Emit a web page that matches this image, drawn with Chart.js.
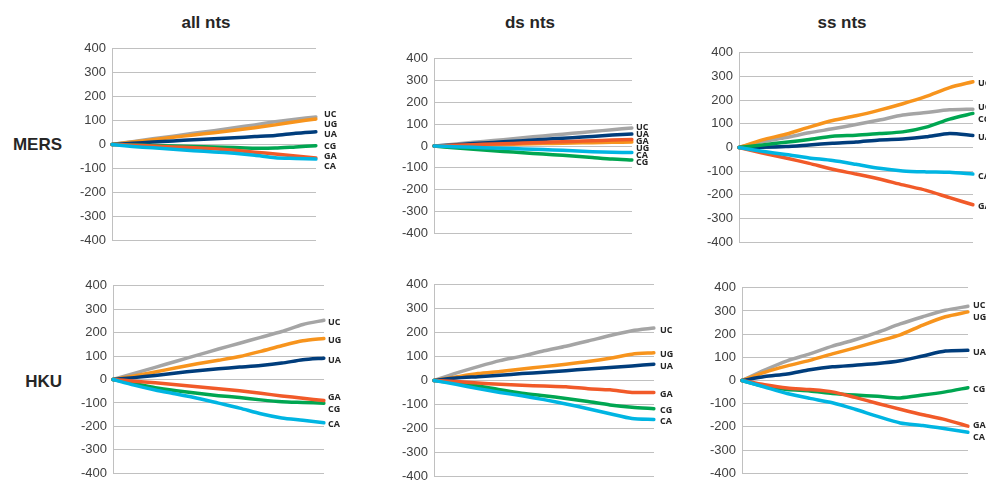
<!DOCTYPE html>
<html>
<head>
<meta charset="utf-8">
<script src="https://cdn.jsdelivr.net/npm/chart.js@4"></script>
<style>
  html, body { margin: 0; padding: 0; background: #fff; width: 986px; height: 482px; overflow: hidden; position: relative; }
  canvas { position: absolute; }
  .title { position: absolute; font: bold 17px "Liberation Sans", Arial, sans-serif; color: #262626; transform: translate(-50%, -50%); white-space: nowrap; }
  .row { position: absolute; font: bold 17px "Liberation Sans", Arial, sans-serif; color: #262626; transform: translate(-100%, -50%); white-space: nowrap; }
</style>
</head>
<body>
<div class="title" style="left:206px; top:23px;">all nts</div>
<div class="title" style="left:530px; top:23px;">ds nts</div>
<div class="title" style="left:842px; top:23px;">ss nts</div>
<div class="row" style="left:62px; top:145px;">MERS</div>
<div class="row" style="left:62px; top:382px;">HKU</div>

<canvas id="c1"></canvas>
<canvas id="c2"></canvas>
<canvas id="c3"></canvas>
<canvas id="c4"></canvas>
<canvas id="c5"></canvas>
<canvas id="c6"></canvas>

<script>
// ---------- DATA ----------
const steps = ['0','1','2','3','4','5','6','7','8','9','10'];
const seriesNames = ['UC', 'UG', 'UA', 'CG', 'GA', 'CA'];
const yTicks = [-400, -300, -200, -100, 0, 100, 200, 300, 400];

// each panel: rows in the order of seriesNames (UC, UG, UA, CG, GA, CA)
const mersAll = [
  [0, 12, 24, 35, 47, 58, 70, 82, 95, 106, 115],
  [0, 10, 20, 30, 40, 49, 60, 70, 82, 95, 107],
  [0, 5, 10, 15, 20, 24, 28, 33, 38, 47, 53],
  [0, -2, -4, -6, -8, -10, -13, -16, -15, -10, -5],
  [0, -3, -6, -10, -14, -18, -24, -32, -40, -48, -56],
  [0, -8, -14, -20, -26, -31, -37, -45, -55, -58, -61]
];
const mersDs = [
  [0, 8, 17, 25, 33, 42, 50, 58, 66, 75, 83],
  [0, 2, 4, 6, 8, 10, 12, 14, 15, 17, 18],
  [0, 5, 11, 16, 22, 27, 33, 38, 44, 50, 55],
  [0, -8, -15, -22, -28, -34, -40, -46, -53, -60, -64],
  [0, 3, 6, 9, 12, 15, 18, 21, 24, 27, 30],
  [0, -3, -6, -9, -12, -15, -18, -22, -26, -29, -30]
];
const mersSs = [
  [0, 25, 42, 62, 79, 97, 116, 137, 148, 159, 162],
  [0, 32, 56, 86, 114, 134, 158, 185, 216, 253, 278],
  [0, 1, 4, 11, 18, 23, 32, 36, 45, 59, 51],
  [0, 11, 22, 34, 48, 52, 59, 66, 86, 120, 144],
  [0, -23, -44, -67, -92, -112, -133, -158, -181, -212, -242],
  [0, -16, -30, -44, -55, -71, -88, -99, -103, -105, -112]
];
const hkuAll = [
  [0, 26, 52, 78, 104, 130, 155, 180, 205, 235, 253],
  [0, 15, 32, 50, 67, 82, 98, 120, 144, 165, 175],
  [0, 8, 17, 28, 37, 46, 53, 60, 70, 84, 91],
  [0, -17, -35, -48, -59, -69, -77, -87, -95, -98, -101],
  [0, -7, -14, -22, -31, -39, -48, -59, -70, -80, -90],
  [0, -24, -45, -62, -80, -101, -122, -146, -164, -174, -185]
];
const hkuDs = [
  [0, 31, 58, 83, 102, 124, 143, 165, 188, 208, 219],
  [0, 15, 29, 38, 48, 58, 68, 79, 93, 110, 116],
  [0, 10, 16, 22, 29, 34, 41, 48, 54, 61, 68],
  [0, -10, -23, -39, -53, -64, -75, -88, -102, -112, -118],
  [0, -4, -10, -16, -20, -23, -26, -34, -39, -50, -50],
  [0, -16, -34, -50, -64, -80, -98, -118, -139, -159, -163]
];
const hkuSs = [
  [0, 45, 85, 115, 148, 176, 208, 244, 275, 303, 320],
  [0, 35, 63, 87, 115, 141, 169, 197, 239, 275, 296],
  [0, 17, 28, 46, 59, 66, 73, 85, 106, 127, 130],
  [0, -25, -39, -45, -56, -63, -68, -75, -63, -49, -31],
  [0, -18, -32, -39, -49, -73, -99, -124, -148, -169, -197],
  [0, -28, -56, -77, -96, -124, -155, -183, -194, -208, -223]
];

// ---------- STYLE / LAYOUT ----------
const colors = { UC: '#a5a5a5', UG: '#f7941d', UA: '#003d7c', CG: '#00a651', GA: '#f15a29', CA: '#00b5e2' };
const drawOrder = ['CA', 'GA', 'CG', 'UA', 'UG', 'UC']; // last drawn on top

const panels = [
  { id: 'c1', data: mersAll, rect: [112, 47, 316, 242], gap: 10, dx: 8 },
  { id: 'c2', data: mersDs,  rect: [434, 57, 632, 235], gap: 7,  dx: 4 },
  { id: 'c3', data: mersSs,  rect: [739, 51, 973, 244], gap: 12, dx: 5 },
  { id: 'c4', data: hkuAll,  rect: [113, 284, 324, 475], gap: 12, dx: 4 },
  { id: 'c5', data: hkuDs,   rect: [434, 283, 654, 478], gap: 11, dx: 6 },
  { id: 'c6', data: hkuSs,   rect: [742, 286, 968, 475], gap: 12, dx: 5 }
];

const AXIS_W = 60, PAD_R = 40, PAD_V = 12;

const endLabels = {
  id: 'endLabels',
  afterDatasetsDraw(chart, args, opts) {
    const ctx = chart.ctx;
    const items = [];
    chart.data.datasets.forEach((ds, i) => {
      const meta = chart.getDatasetMeta(i);
      const pt = meta.data[meta.data.length - 1];
      items.push({ name: ds.label, y: pt.y + 2, x: pt.x });
    });
    items.sort((a, b) => a.y - b.y);
    const gap = opts.gap || 10;
    for (let iter = 0; iter < 200; iter++) {
      let moved = false;
      for (let i = 1; i < items.length; i++) {
        const d = items[i].y - items[i - 1].y;
        if (d < gap - 0.01) {
          const push = (gap - d) / 2;
          items[i].y += push; items[i - 1].y -= push; moved = true;
        }
      }
      if (!moved) break;
    }
    ctx.save();
    ctx.font = 'bold 9px "Open Sans", "Liberation Sans", sans-serif';
    ctx.fillStyle = '#262626';
    ctx.textAlign = 'left';
    ctx.textBaseline = 'middle';
    items.forEach(it => ctx.fillText(it.name, chart.chartArea.right + (opts.dx || 5), it.y));
    ctx.restore();
  }
};

panels.forEach(p => {
  const [L, T, R, B] = p.rect;
  const cv = document.getElementById(p.id);
  cv.width = (R - L) + AXIS_W + PAD_R;
  cv.height = (B - T) + 2 * PAD_V;
  cv.style.left = (L - AXIS_W) + 'px';
  cv.style.top = (T - PAD_V) + 'px';

  const datasets = drawOrder.map(name => {
    const idx = seriesNames.indexOf(name);
    return {
      label: name,
      data: p.data[idx],
      borderColor: colors[name],
      backgroundColor: colors[name],
      borderWidth: 3.5,
      pointRadius: 0,
      tension: 0.25,
      borderJoinStyle: 'round',
      borderCapStyle: 'round',
      fill: false
    };
  });

  new Chart(cv, {
    type: 'line',
    data: { labels: steps, datasets },
    options: {
      responsive: false,
      animation: false,
      events: [],
      layout: { padding: { left: 0, right: PAD_R, top: PAD_V, bottom: PAD_V } },
      plugins: { legend: { display: false }, tooltip: { enabled: false }, endLabels: { gap: p.gap, dx: p.dx } },
      scales: {
        x: { display: false },
        y: {
          min: yTicks[0], max: yTicks[yTicks.length - 1],
          afterFit(scale) { scale.width = AXIS_W; },
          afterBuildTicks(scale) { scale.ticks = yTicks.map(v => ({ value: v })); },
          ticks: { padding: 6, color: '#404040', font: { family: '"Liberation Sans", Arial, sans-serif', size: 13 } },
          grid: { color: '#c0c0c0', lineWidth: 1, drawTicks: false },
          border: { display: true, color: '#c0c0c0', width: 1 }
        }
      }
    },
    plugins: [endLabels]
  });
});
</script>
</body>
</html>
